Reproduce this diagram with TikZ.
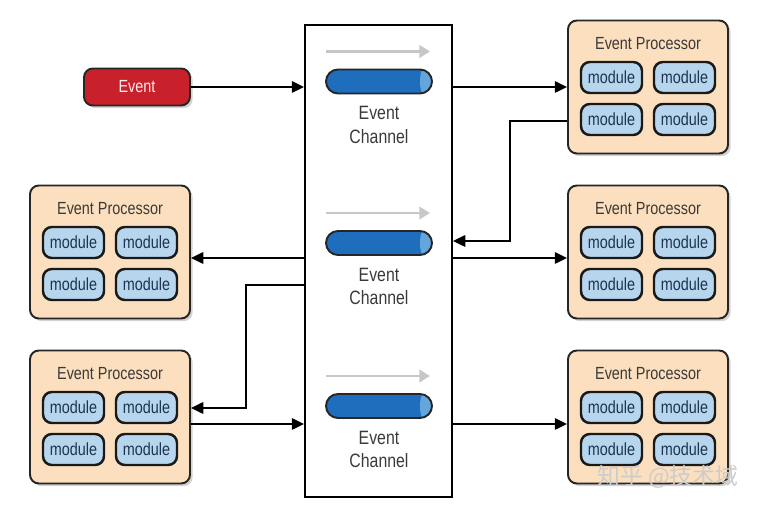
\documentclass[tikz,border=0pt]{standalone}
\usepackage{fontspec}
\setmainfont[FakeStretch=0.82]{Liberation Sans}
\newfontfamily\cjkfont{Noto Sans CJK SC}
\usetikzlibrary{arrows.meta, positioning, shadows}

\definecolor{procfill}{HTML}{FCDFBE}
\definecolor{modfill}{HTML}{B7D6EE}
\definecolor{modtext}{HTML}{1D3550}
\definecolor{evred}{HTML}{C9212B}
\definecolor{chblue}{HTML}{1F6EBE}
\definecolor{chend}{HTML}{62A6DC}
\definecolor{txtgray}{HTML}{3C3A38}

\begin{document}
\begin{tikzpicture}[x=0.02cm, y=-0.02cm,
    flow/.style={-{Triangle[length=7pt,width=6.5pt]}, line width=1.1pt},
    faint/.style={-{Triangle[length=6pt,width=7pt]}, line width=1.6pt, black!22},
    processor/.style={draw=black!85, line width=1.1pt, fill=procfill, rounded corners=5pt,
        minimum width=3.2cm, minimum height=2.66cm,
        drop shadow={shadow xshift=1.5pt, shadow yshift=-1.5pt, opacity=0.35}},
    module/.style={draw=black!90, line width=1.4pt, fill=modfill, rounded corners=5pt,
        minimum width=1.22cm, minimum height=0.62cm, inner sep=0pt, text=modtext,
        font=\fontsize{10}{11}\selectfont},
    ptitle/.style={text=txtgray, font=\fontsize{10}{11}\selectfont},
    event/.style={draw=black!85, line width=1.1pt, fill=evred, rounded corners=5pt,
        minimum width=2.12cm, minimum height=0.74cm, text=white!92!red,
        font=\fontsize{10}{11}\selectfont,
        drop shadow={shadow xshift=1.5pt, shadow yshift=-1.5pt, opacity=0.35}},
    pipe/.style={draw=black!85, line width=1.1pt, fill=chblue, rounded corners=0.24cm,
        minimum width=2.12cm, minimum height=0.48cm, inner sep=0pt,
        path picture={\fill[chend] ([xshift=-0.13cm]path picture bounding box.east)
            ellipse (0.11cm and 0.3cm);}},
    chantext/.style={text=txtgray, align=center, font=\fontsize{11}{13.6}\selectfont}
]
    \useasboundingbox (0,0) rectangle (758,509);

    % Event channel box
    \node[draw, line width=1.1pt, minimum width=2.94cm, minimum height=9.44cm] (bus) at (378.5,261) {};

    % Channels
    \foreach \c/\y in {ch1/81.5, ch2/243, ch3/406} {
        \node[pipe] (\c) at (379,\y) {};
        \draw[faint] ([shift={(-53,-30)}]\c.center) -- ++(104,0);
        \node[chantext] at ([shift={(0,43.5)}]\c.center) {Event\\Channel};
    }

    % Event processors
    \foreach \p/\x/\y in {tr/648/87, mr/648/252, br/648/417, ml/110/252, bl/110/417} {
        \node[processor] (\p) at (\x,\y) {};
        \node[ptitle] at ([shift={(0,-43)}]\p.center) {Event Processor};
        \node[module] (\p-a) at ([shift={(-36.5,-9.5)}]\p.center) {module};
        \node[module] (\p-b) at ([shift={(36.5,-9.5)}]\p.center) {module};
        \node[module] (\p-c) at ([shift={(-36.5,32.5)}]\p.center) {module};
        \node[module] (\p-d) at ([shift={(36.5,32.5)}]\p.center) {module};
    }

    % Event source
    \node[event] (ev) at (137,87) {Event};

    % Connectors
    \draw[flow] (ev.east) -- ([shift={(0,-174)}]bus.west);
    \draw[flow] ([shift={(0,-174)}]bus.east) -- (tr.west);
    \draw[flow] ([shift={(0,34)}]tr.west) -- ++(-57,0) |- ([shift={(0,-20)}]bus.east);
    \draw[flow] ([shift={(0,-3)}]bus.east) -- ([shift={(0,6)}]mr.west);
    \draw[flow] ([shift={(0,-3)}]bus.west) -- ([shift={(0,6)}]ml.east);
    \draw[flow] ([shift={(0,24)}]bus.west) -- ++(-58,0) |- ([shift={(0,-9)}]bl.east);
    \draw[flow] ([shift={(0,7)}]bl.east) -- ([shift={(0,163)}]bus.west);
    \draw[flow] ([shift={(0,163)}]bus.east) -- ([shift={(0,7)}]br.west);

    % Watermark
    \node[text=white!60!gray, font=\cjkfont\fontsize{13}{13}\selectfont] (mark) at (668,477) {知乎 @技术域};
\end{tikzpicture}
\end{document}
